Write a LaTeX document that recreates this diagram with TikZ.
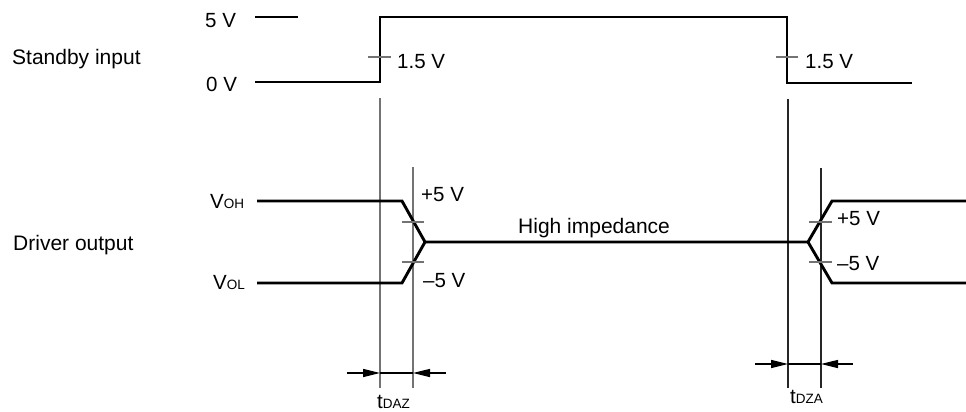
\documentclass[tikz,border=0pt]{standalone}
\usepackage{fontspec}
\setmainfont{Liberation Sans}
\usetikzlibrary{arrows.meta}
\begin{document}
\begin{tikzpicture}[x=1pt,y=-1pt,
  sig/.style={line width=2.9pt,line join=miter},
  guide/.style={line width=1.3pt,draw=black!55},
  guideR/.style={line width=1.2pt,draw=black!85},
  tick/.style={line width=1.1pt,draw=black!55},
  dim/.style={line width=1.3pt,-{Triangle[length=17pt,width=8pt]}},
  lbl/.style={inner sep=0pt,anchor=base west,font=\fontsize{21}{24}\selectfont},
  vlbl/.style={inner sep=0pt,anchor=base west,font=\fontsize{20.5}{24}\selectfont}]
\useasboundingbox (0,0) rectangle (966,412);
\fill[white] (0,0) rectangle (966,412);
\newcommand{\smallsub}[1]{{\fontsize{13.5}{15}\selectfont #1}}
% guide lines
\draw[guide] (380,98) coordinate (g1t) -- (380,388) coordinate (g1b);
\draw[guide] (413,167) coordinate (g2t) -- (413,388) coordinate (g2b);
\draw[guideR] (788,99) coordinate (g3t) -- (788,388) coordinate (g3b);
\draw[guideR] (821,168) coordinate (g4t) -- (821,388) coordinate (g4b);
% standby input
\draw[sig] (255,17) -- (298,17);
\draw[sig] (255,82) -- (380,82) -- (380,17) -- (787,17) -- (787,83) -- (912,83);
\draw[tick] (368,57) -- (391,57);
\draw[tick] (776,57) -- (798,57);
% driver output
\draw[sig] (257,201) -- (402,201) -- (425,242) -- (808,242) -- (832,201) -- (966,201);
\draw[sig] (257,283) -- (402,283) -- (425,242);
\draw[sig] (808,242) -- (832,283) -- (966,283);
\draw[tick] (402,222) -- (424,222);
\draw[tick] (402,262) -- (424,262);
\draw[tick] (809,222) -- (832,222);
\draw[tick] (809,262) -- (832,262);
% dimension arrows
\coordinate (a1) at (347,373); \coordinate (a2) at (380,373);
\coordinate (a3) at (413,373); \coordinate (a4) at (446,373);
\draw[dim] (a1) -- (a2);
\draw[line width=1.3pt] (a2) -- (a3);
\draw[dim] (a4) -- (a3);
\coordinate (b1) at (755,364); \coordinate (b2) at (788,364);
\coordinate (b3) at (821,364); \coordinate (b4) at (853,364);
\draw[dim] (b1) -- (b2);
\draw[line width=1.3pt] (b2) -- (b3);
\draw[dim] (b4) -- (b3);
% labels
\node[lbl] (sby) at (12,65) {Standby input};
\node[lbl] (drv) at (13,250) {Driver output};
\node[lbl] (hiz) at (518,233) {High impedance};
\node[vlbl] (v5) at (205,28) {5 V};
\node[vlbl] (v0) at (206,92) {0 V};
\node[vlbl] (th1) at (397,68) {1.5 V};
\node[vlbl] (th2) at (805,68) {1.5 V};
\node[vlbl] (voh) at (210,208) {V\smallsub{OH}};
\node[vlbl] (vol) at (213,289) {V\smallsub{OL}};
\node[vlbl] (p5a) at (421,201) {+5 V};
\node[vlbl] (m5a) at (423,287) {–5 V};
\node[vlbl] (p5b) at (837,225) {+5 V};
\node[vlbl] (m5b) at (837,270) {–5 V};
\node[vlbl] (tdaz) at (377,408) {t\smallsub{DAZ}};
\node[vlbl] (tdza) at (790,403) {t\smallsub{DZA}};
\end{tikzpicture}
\end{document}
